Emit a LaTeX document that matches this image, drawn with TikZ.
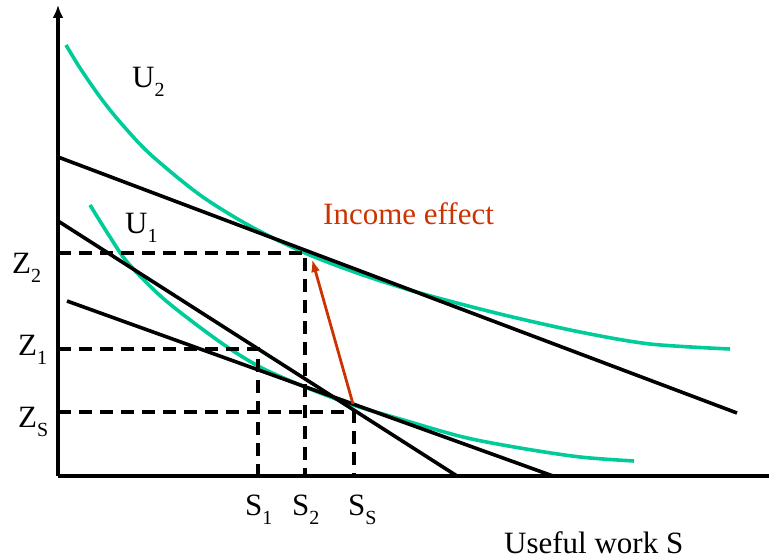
\documentclass[tikz,border=0pt]{standalone}
\usepackage{fontspec}
\setmainfont{Liberation Serif}
\usetikzlibrary{arrows.meta}
\definecolor{ucurve}{RGB}{0,204,153}
\definecolor{incred}{RGB}{204,51,0}
\newcommand{\lowidx}[1]{\raisebox{-9pt}{\fontsize{20}{20}\selectfont #1}}
\begin{document}
\begin{tikzpicture}[x=1pt,y=-1pt,
  lbl/.style={inner sep=0pt, anchor=base west, font=\fontsize{31}{36}\selectfont},
  budget/.style={line width=3.6pt},
  ucv/.style={ucurve, line width=3.6pt},
  guide/.style={line width=3.2pt, dash pattern=on 13pt off 8pt},
  axisline/.style={line width=3.6pt}]
\useasboundingbox (0,0) rectangle (770,559);
% axes
\coordinate (O) at (58,476);
\coordinate (ytop) at (58,5);
\coordinate (xend) at (769,476);
\draw[axisline,-{Latex[length=13pt,width=11pt]}] (O) -- (ytop);
\draw[axisline] (O) -- (xend);
% indifference curves
\draw[ucv] plot[smooth] coordinates {(66,45) (80,68) (100,97) (120,122) (150,154) (200,195) (250,226) (305,253) (360,274) (420,293) (500,314) (580,332) (650,344) (730,349)};
\draw[ucv] plot[smooth] coordinates {(90,205) (110,237) (128,263) (165,300) (220,342) (260,367) (305,387) (353,405) (400,419) (463,437) (520,448) (580,457) (634,461)};
% budget lines
\coordinate (l1a) at (58,157); \coordinate (l1b) at (737,413);
\coordinate (l2a) at (58,221); \coordinate (l2b) at (457,476);
\coordinate (l3a) at (67,301); \coordinate (l3b) at (553,476);
\draw[budget] (l1a) -- (l1b);
\draw[budget] (l2a) -- (l2b);
\draw[budget] (l3a) -- (l3b);
% guide lines
\coordinate (z2) at (58,253); \coordinate (t2) at (305,253); \coordinate (s2) at (305,476);
\coordinate (z1) at (58,349); \coordinate (t1) at (258,349); \coordinate (s1) at (258,476);
\coordinate (zs) at (58,412); \coordinate (ts) at (354,412); \coordinate (ss) at (354,476);
\draw[guide] (z2) -- (t2) -- (s2);
\draw[guide] (z1) -- (t1) -- (s1);
\draw[guide] (zs) -- (ts) -- (ss);
% income effect arrow
\coordinate (ia) at (353,404); \coordinate (ib) at (312,259);
\draw[incred, line width=2.8pt, -{Latex[length=13pt,width=9pt]}] (ia) -- (ib);
% labels
\node[lbl] (lz2) at (12,273) {Z\lowidx{2}};
\node[lbl] (lz1) at (18,355) {Z\lowidx{1}};
\node[lbl] (lzs) at (18,427) {Z\lowidx{S}};
\node[lbl] (ls1) at (245,515) {S\lowidx{1}};
\node[lbl] (ls2) at (292,515) {S\lowidx{2}};
\node[lbl] (lss) at (348,515) {S\lowidx{S}};
\node[lbl] (lu2) at (132,88) {U\lowidx{2}};
\node[lbl] (lu1) at (125,233) {U\lowidx{1}};
\node[lbl, text=incred] (linc) at (323,224) {Income effect};
\node[lbl] (lx) at (504,553) {Useful work S};
\end{tikzpicture}
\end{document}
